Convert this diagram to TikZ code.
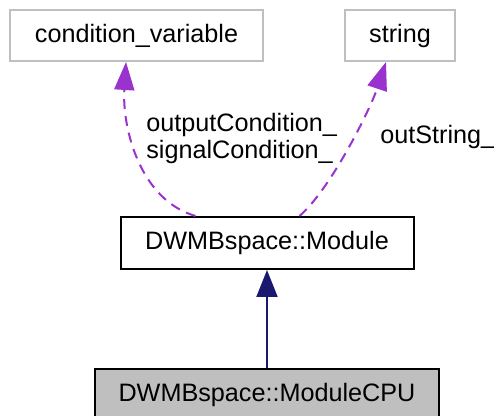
\documentclass[tikz,border=0pt]{standalone}
\usepackage{fontspec}
\setmainfont{Liberation Sans}
\usetikzlibrary{arrows.meta,calc}

\definecolor{edgepurple}{HTML}{9A32CD}
\definecolor{edgeblue}{HTML}{191970}
\definecolor{boxgray}{HTML}{BFBFBF}

\tikzset{
  classbox/.style={draw=black, line width=1pt, fill=white, inner sep=0pt,
    font=\fontsize{12.6}{15}\selectfont},
  extbox/.style={classbox, draw=boxgray},
  usage/.style={draw=edgepurple, line width=1pt, dash pattern=on 5pt off 3.5pt,
    -{Triangle[length=14pt,width=10pt]}},
  inherit/.style={draw=edgeblue, line width=1pt,
    -{Triangle[length=13.5pt,width=10.5pt]}},
  edgelabel/.style={inner sep=0pt, anchor=west, align=left,
    font=\fontsize{12.6}{13.5}\selectfont}
}

\begin{document}
\begin{tikzpicture}[x=0.5pt, y=-0.5pt]
        \useasboundingbox (0,0) rectangle (494,416);

        \node[extbox, minimum width=126.5pt, minimum height=25.5pt] (condvar) at (136.5,35.5) {condition\_variable};
        \node[extbox, minimum width=55pt, minimum height=25.5pt] (str) at (400,35.5) {string};

        \node[classbox, minimum width=146.5pt, minimum height=26pt] (module) at (267,243) {DWMBspace::Module};
        \node[classbox, fill=boxgray, minimum width=172pt, minimum height=25.5pt] (modulecpu) at (267,395) {DWMBspace::ModuleCPU};

        % members
        \draw[usage] ($(module.north west)+(76,0)$) .. controls (140,200) and (122,128) .. ($(condvar.south west)+(117,0)$);
        \draw[usage] ($(module.north west)+(180,0)$) .. controls (330,190) and (370,110) .. ($(str.south west)+(42,0)$);

        \node[edgelabel] (lblcond) at (146,138) {outputCondition\_\\signalCondition\_};
        \node[edgelabel] (lblstr) at (380,137) {outString\_};

        % base class
        \draw[inherit] (modulecpu.north) -- (module.south);

    \end{tikzpicture}
\end{document}
